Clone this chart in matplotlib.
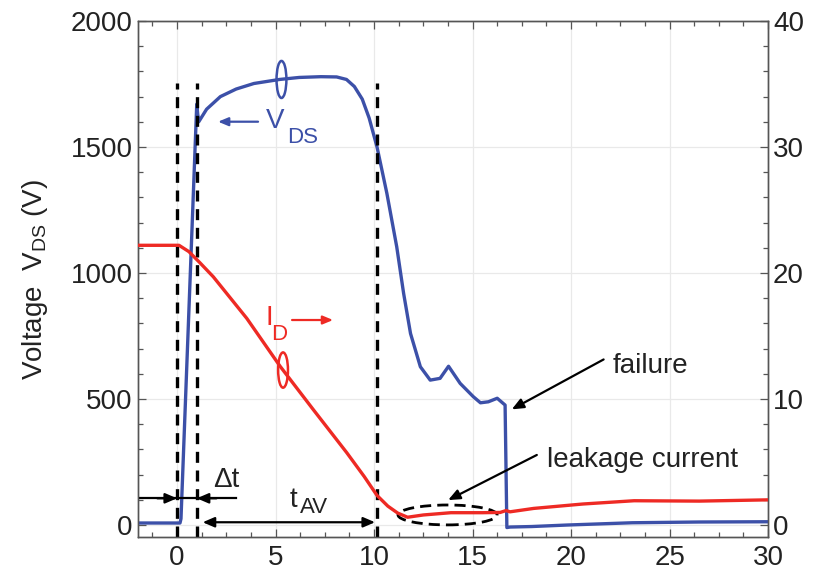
import numpy as np
import matplotlib
matplotlib.use("Agg")
import matplotlib.pyplot as plt
from matplotlib.patches import Ellipse
from matplotlib.ticker import AutoMinorLocator, MultipleLocator

plt.rcParams['font.family'] = ['Liberation Sans', 'DejaVu Sans']
plt.rcParams['mathtext.fontset'] = 'custom'
plt.rcParams['mathtext.rm'] = 'Liberation Sans'
plt.rcParams['mathtext.it'] = 'Liberation Sans:italic'

# drain-source voltage (V) vs time (us)
t_vds = [-2, 0.15, 0.2, 1.0, 1.05, 1.1, 1.5, 2.2, 3.0, 3.9, 5.2, 6.2, 7.3,
         8.1, 8.6, 9.0, 9.4, 9.75, 10.15, 10.65, 11.15, 11.5, 11.85, 12.35,
         12.85, 13.35, 13.78, 14.37, 15.04, 15.4, 15.8, 16.25, 16.65, 16.74,
         16.9, 18.0, 19.8, 23.1, 26.5, 30]
vds = [8, 8, 25, 1670, 1630, 1600, 1650, 1700, 1730, 1752, 1768, 1776, 1779,
       1778, 1768, 1740, 1690, 1615, 1500, 1316, 1104, 919, 760, 628,
       575, 582, 630, 562, 509, 485, 489, 503, 476, -10,
       -8, -6, 0, 9, 12, 13]

# drain current (A) vs time (us)
t_id = [-2, 0.1, 0.6, 1.17, 1.84, 3.54, 5.23, 6.92, 8.61, 9.5, 10.15, 10.7,
        11.2, 11.7, 12.5, 13.9, 15.5, 16.4, 16.7, 16.9, 18.1, 20.6, 23.2,
        26.5, 30]
i_d = [22.2, 22.2, 21.7, 20.8, 19.7, 16.4, 12.6, 9.15, 5.75, 3.85, 2.35, 1.5,
       0.95, 0.62, 0.8, 0.98, 0.98, 1.0, 1.15, 1.05, 1.32, 1.67, 1.93,
       1.9, 2.0]

# time markers: start of avalanche, end of delay, end of avalanche
t_marks = [0.0, 1.0, 10.15]

blue = '#3c50a8'
red = '#ee2a24'
txt = '#222222'

fig = plt.figure(figsize=(8.13, 5.8), dpi=100)
ax = fig.add_axes([0.1693, 0.0741, 0.7755, 0.8897])
ax2 = ax.twinx()

ax.plot(t_vds, vds, color=blue, lw=2.4, solid_joinstyle='round', zorder=3)
ax2.plot(t_id, i_d, color=red, lw=2.4, solid_joinstyle='round', zorder=3)

ax.set_xlim(-2, 30)
ax.set_ylim(-47.6, 2000)
ax2.set_ylim(-0.95, 40)

ax.xaxis.set_major_locator(MultipleLocator(5))
ax.xaxis.set_minor_locator(AutoMinorLocator(4))
ax.yaxis.set_major_locator(MultipleLocator(500))
ax.yaxis.set_minor_locator(AutoMinorLocator(5))
ax2.yaxis.set_major_locator(MultipleLocator(10))
ax2.yaxis.set_minor_locator(AutoMinorLocator(5))

for a in (ax, ax2):
    a.tick_params(which='both', direction='in', labelsize=20, colors='#555555',
                  labelcolor=txt, width=0.9)
    a.tick_params(which='major', length=6)
    a.tick_params(which='minor', length=3.5)
    for s in a.spines.values():
        s.set_color('#555555')
        s.set_linewidth(1.0)
ax.tick_params(which='both', top=True)
ax.tick_params(axis='x', pad=6)
ax.grid(True, which='major', color='#e9e9e9', lw=0.9)
ax.set_axisbelow(True)

ax.set_ylabel(r'Voltage  V$_{\mathrm{DS}}$ (V)', fontsize=20, color=txt, labelpad=15)

# vertical dashed markers
ax.vlines(t_marks, -47.6, 1755, colors='black', lw=2.4,
          linestyles=[(0, (3.3, 2.3))], zorder=4)

arrow = dict(arrowstyle='-|>,head_length=0.7,head_width=0.3', color='black',
             lw=1.6, shrinkA=0, shrinkB=0)
darrow = dict(arrowstyle='<|-|>,head_length=0.7,head_width=0.3', color='black',
              lw=1.6, shrinkA=0, shrinkB=0)

# delta t marker
ax.plot([-2, 3.0], [106, 106], color='black', lw=1.6, zorder=5)
ax.annotate('', xy=(t_marks[0], 106), xytext=(-1.0, 106), arrowprops=arrow, zorder=5)
ax.annotate('', xy=(t_marks[1], 106), xytext=(2.0, 106), arrowprops=arrow, zorder=5)
ax.text(1.85, 150, '\u0394t', fontsize=20, color=txt, ha='left', va='baseline')

# avalanche time
ax.annotate('', xy=(1.3, 11), xytext=(10.05, 11), arrowprops=darrow, zorder=5)
ax.text(5.7, 71, 't', fontsize=20, color=txt, ha='left', va='baseline')
ax.text(6.25, 47, 'AV', fontsize=16, color=txt, ha='left', va='baseline')


def px(x, y):
    # screen-like position -> data coords of the voltage axis
    return (x - 177.0) / 19.7, (525.0 - y) / 0.252


# V_DS label
ax.annotate('', xy=px(218, 121.7), xytext=px(258, 121.7),
            arrowprops=dict(arrowstyle='-|>,head_length=0.6,head_width=0.25',
                            color=blue, lw=1.6, shrinkA=0, shrinkB=0))
ax.text(*px(266, 128), 'V', fontsize=20, color=blue, ha='left', va='baseline')
ax.text(*px(287, 143), 'DS', fontsize=16, color=blue, ha='left', va='baseline')

# I_D label
ax.annotate('', xy=px(333, 320), xytext=px(292, 320),
            arrowprops=dict(arrowstyle='-|>,head_length=0.6,head_width=0.25',
                            color=red, lw=1.6, shrinkA=0, shrinkB=0))
ax.text(*px(265, 325), 'I', fontsize=20, color=red, ha='left', va='baseline')
ax.text(*px(271, 340), 'D', fontsize=16, color=red, ha='left', va='baseline')

# curve ellipses
ax.add_patch(Ellipse((5.3, 1768), 0.5, 147, fill=False, ec=blue, lw=1.8, zorder=5))
ax2.add_patch(Ellipse((5.38, 12.3), 0.5, 2.8, fill=False, ec=red, lw=1.8, zorder=5))

# failure
ax.annotate('', xy=(16.99, 459), xytext=(21.65, 657), arrowprops=arrow, zorder=5)
ax.text(22.13, 603, 'failure', fontsize=20, color=txt, ha='left', va='baseline')

# leakage current
ax.add_patch(Ellipse((13.73, 40), 5.03, 79, fill=False, ec='black', lw=2.0,
                     ls=(0, (4, 2.2)), zorder=5))
ax.annotate('', xy=(13.76, 99), xytext=(18.26, 278), arrowprops=arrow, zorder=5)
ax.text(18.78, 231, 'leakage current', fontsize=20, color=txt, ha='left', va='baseline')

fig.savefig('out.png', dpi=100)
